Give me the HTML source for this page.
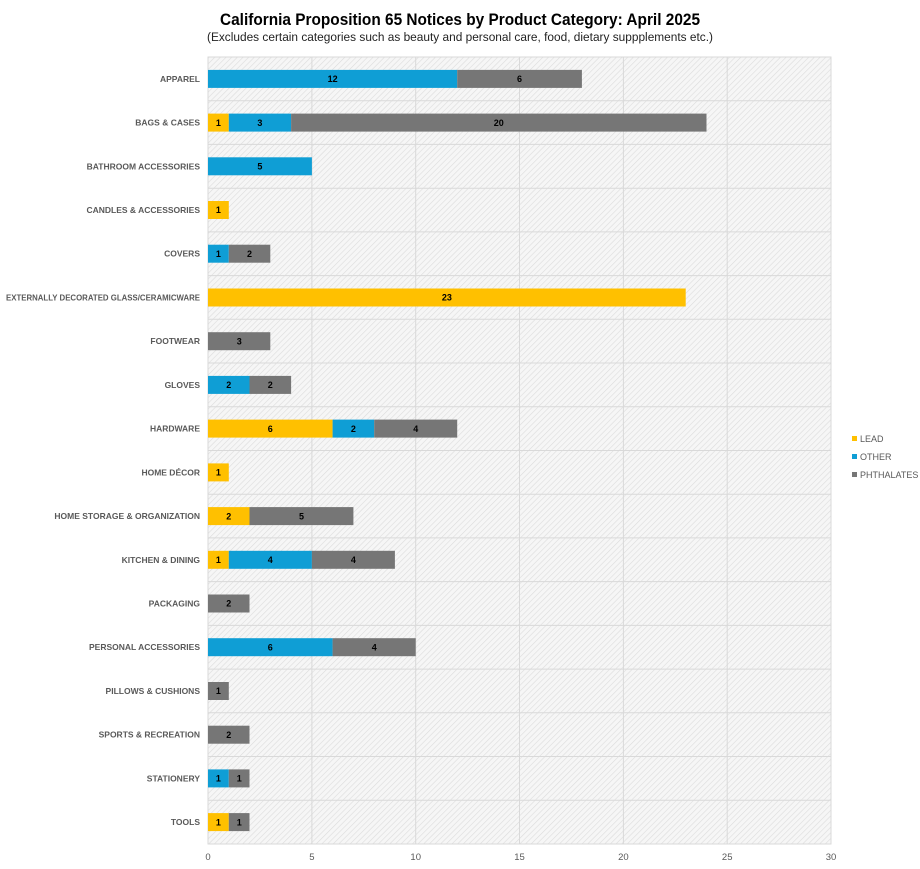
<!DOCTYPE html>
<html><head><meta charset="utf-8"><style>
body{margin:0;background:#fff;}
svg{display:block;font-family:"Liberation Sans",sans-serif;}
.c{font-size:8.5px;font-weight:bold;fill:#595959;text-anchor:end;}
.v{font-size:9px;font-weight:bold;fill:#000;text-anchor:middle;}
.t{font-size:9.5px;fill:#595959;text-anchor:middle;}
.L{fill:#FFC000}.O{fill:#0F9ED5}.P{fill:#767676}
</style></head><body>
<svg width="920" height="869" viewBox="0 0 920 869">
<defs><pattern id="h" width="4" height="4" patternUnits="userSpaceOnUse" patternTransform="rotate(45)"><rect width="4" height="4" fill="#f6f6f6"/><line x1="0" y1="0" x2="0" y2="4" stroke="#dcdcdc" stroke-width="1.2"/></pattern></defs>
<text x="220" y="25" textLength="480" lengthAdjust="spacingAndGlyphs" font-size="17" font-weight="bold" fill="#000">California Proposition 65 Notices by Product Category: April 2025</text>
<text x="207" y="41" textLength="506" lengthAdjust="spacingAndGlyphs" font-size="12.3" fill="#222">(Excludes certain categories such as beauty and personal care, food, dietary suppplements etc.)</text>
<rect x="208" y="57" width="623" height="787" fill="url(#h)" stroke="#d9d9d9"/>
<g stroke="#d9d9d9" stroke-width="1">
<line x1="311.9" y1="57" x2="311.9" y2="844"/><line x1="415.7" y1="57" x2="415.7" y2="844"/><line x1="519.5" y1="57" x2="519.5" y2="844"/><line x1="623.4" y1="57" x2="623.4" y2="844"/><line x1="727.2" y1="57" x2="727.2" y2="844"/>
<line x1="208" y1="100.7" x2="831" y2="100.7"/><line x1="208" y1="144.4" x2="831" y2="144.4"/><line x1="208" y1="188.2" x2="831" y2="188.2"/><line x1="208" y1="231.9" x2="831" y2="231.9"/><line x1="208" y1="275.6" x2="831" y2="275.6"/><line x1="208" y1="319.3" x2="831" y2="319.3"/><line x1="208" y1="363" x2="831" y2="363"/><line x1="208" y1="406.8" x2="831" y2="406.8"/><line x1="208" y1="450.5" x2="831" y2="450.5"/><line x1="208" y1="494.2" x2="831" y2="494.2"/><line x1="208" y1="537.9" x2="831" y2="537.9"/><line x1="208" y1="581.6" x2="831" y2="581.6"/><line x1="208" y1="625.4" x2="831" y2="625.4"/><line x1="208" y1="669.1" x2="831" y2="669.1"/><line x1="208" y1="712.8" x2="831" y2="712.8"/><line x1="208" y1="756.5" x2="831" y2="756.5"/><line x1="208" y1="800.2" x2="831" y2="800.2"/>
</g>
<g>
<text class="t" x="208" y="860">0</text><text class="t" x="311.9" y="860">5</text><text class="t" x="415.7" y="860">10</text><text class="t" x="519.5" y="860">15</text><text class="t" x="623.4" y="860">20</text><text class="t" x="727.2" y="860">25</text><text class="t" x="831" y="860">30</text>
</g>
<g transform="translate(0,78.9)"><text class="c" x="200" y="3">APPAREL</text>
<rect class="O" x="208" y="-9" width="249.2" height="18"/><rect class="P" x="457.2" y="-9" width="124.7" height="18"/>
<text class="v" x="332.6" y="3.2">12</text><text class="v" x="519.5" y="3.2">6</text></g>
<g transform="translate(0,122.6)"><text class="c" x="200" y="3">BAGS &amp; CASES</text>
<rect class="L" x="208" y="-9" width="20.8" height="18"/><rect class="O" x="228.8" y="-9" width="62.3" height="18"/><rect class="P" x="291.1" y="-9" width="415.4" height="18"/>
<text class="v" x="218.4" y="3.2">1</text><text class="v" x="259.9" y="3.2">3</text><text class="v" x="498.8" y="3.2">20</text></g>
<g transform="translate(0,166.3)"><text class="c" x="200" y="3">BATHROOM ACCESSORIES</text>
<rect class="O" x="208" y="-9" width="103.9" height="18"/><text class="v" x="259.9" y="3.2">5</text></g>
<g transform="translate(0,210)"><text class="c" x="200" y="3">CANDLES &amp; ACCESSORIES</text>
<rect class="L" x="208" y="-9" width="20.8" height="18"/><text class="v" x="218.4" y="3.2">1</text></g>
<g transform="translate(0,253.7)"><text class="c" x="200" y="3">COVERS</text>
<rect class="O" x="208" y="-9" width="20.8" height="18"/><rect class="P" x="228.8" y="-9" width="41.5" height="18"/>
<text class="v" x="218.4" y="3.2">1</text><text class="v" x="249.5" y="3.2">2</text></g>
<g transform="translate(0,297.5)"><text class="c" x="6" y="3" style="text-anchor:start" textLength="194" lengthAdjust="spacingAndGlyphs">EXTERNALLY DECORATED GLASS/CERAMICWARE</text>
<rect class="L" x="208" y="-9" width="477.7" height="18"/><text class="v" x="446.9" y="3.2">23</text></g>
<g transform="translate(0,341.2)"><text class="c" x="200" y="3">FOOTWEAR</text>
<rect class="P" x="208" y="-9" width="62.3" height="18"/><text class="v" x="239.2" y="3.2">3</text></g>
<g transform="translate(0,384.9)"><text class="c" x="200" y="3">GLOVES</text>
<rect class="O" x="208" y="-9" width="41.5" height="18"/><rect class="P" x="249.5" y="-9" width="41.6" height="18"/>
<text class="v" x="228.8" y="3.2">2</text><text class="v" x="270.3" y="3.2">2</text></g>
<g transform="translate(0,428.6)"><text class="c" x="200" y="3">HARDWARE</text>
<rect class="L" x="208" y="-9" width="124.6" height="18"/><rect class="O" x="332.6" y="-9" width="41.6" height="18"/><rect class="P" x="374.2" y="-9" width="83" height="18"/>
<text class="v" x="270.3" y="3.2">6</text><text class="v" x="353.4" y="3.2">2</text><text class="v" x="415.7" y="3.2">4</text></g>
<g transform="translate(0,472.4)"><text class="c" x="200" y="3">HOME DÉCOR</text>
<rect class="L" x="208" y="-9" width="20.8" height="18"/><text class="v" x="218.4" y="3.2">1</text></g>
<g transform="translate(0,516.1)"><text class="c" x="200" y="3">HOME STORAGE &amp; ORGANIZATION</text>
<rect class="L" x="208" y="-9" width="41.5" height="18"/><rect class="P" x="249.5" y="-9" width="103.9" height="18"/>
<text class="v" x="228.8" y="3.2">2</text><text class="v" x="301.5" y="3.2">5</text></g>
<g transform="translate(0,559.8)"><text class="c" x="200" y="3">KITCHEN &amp; DINING</text>
<rect class="L" x="208" y="-9" width="20.8" height="18"/><rect class="O" x="228.8" y="-9" width="83.1" height="18"/><rect class="P" x="311.9" y="-9" width="83" height="18"/>
<text class="v" x="218.4" y="3.2">1</text><text class="v" x="270.3" y="3.2">4</text><text class="v" x="353.4" y="3.2">4</text></g>
<g transform="translate(0,603.5)"><text class="c" x="200" y="3">PACKAGING</text>
<rect class="P" x="208" y="-9" width="41.5" height="18"/><text class="v" x="228.8" y="3.2">2</text></g>
<g transform="translate(0,647.2)"><text class="c" x="200" y="3">PERSONAL ACCESSORIES</text>
<rect class="O" x="208" y="-9" width="124.6" height="18"/><rect class="P" x="332.6" y="-9" width="83.1" height="18"/>
<text class="v" x="270.3" y="3.2">6</text><text class="v" x="374.2" y="3.2">4</text></g>
<g transform="translate(0,691)"><text class="c" x="200" y="3">PILLOWS &amp; CUSHIONS</text>
<rect class="P" x="208" y="-9" width="20.8" height="18"/><text class="v" x="218.4" y="3.2">1</text></g>
<g transform="translate(0,734.7)"><text class="c" x="200" y="3">SPORTS &amp; RECREATION</text>
<rect class="P" x="208" y="-9" width="41.5" height="18"/><text class="v" x="228.8" y="3.2">2</text></g>
<g transform="translate(0,778.4)"><text class="c" x="200" y="3">STATIONERY</text>
<rect class="O" x="208" y="-9" width="20.8" height="18"/><rect class="P" x="228.8" y="-9" width="20.7" height="18"/>
<text class="v" x="218.4" y="3.2">1</text><text class="v" x="239.2" y="3.2">1</text></g>
<g transform="translate(0,822.1)"><text class="c" x="200" y="3">TOOLS</text>
<rect class="L" x="208" y="-9" width="20.8" height="18"/><rect class="P" x="228.8" y="-9" width="20.7" height="18"/>
<text class="v" x="218.4" y="3.2">1</text><text class="v" x="239.2" y="3.2">1</text></g>
<rect class="L" x="852" y="436" width="5" height="5"/><text x="860" y="442" font-size="9" fill="#595959">LEAD</text>
<rect class="O" x="852" y="454" width="5" height="5"/><text x="860" y="460" font-size="9" fill="#595959">OTHER</text>
<rect class="P" x="852" y="472" width="5" height="5"/><text x="860" y="478" font-size="9" fill="#595959">PHTHALATES</text>
</svg>
</body></html>
